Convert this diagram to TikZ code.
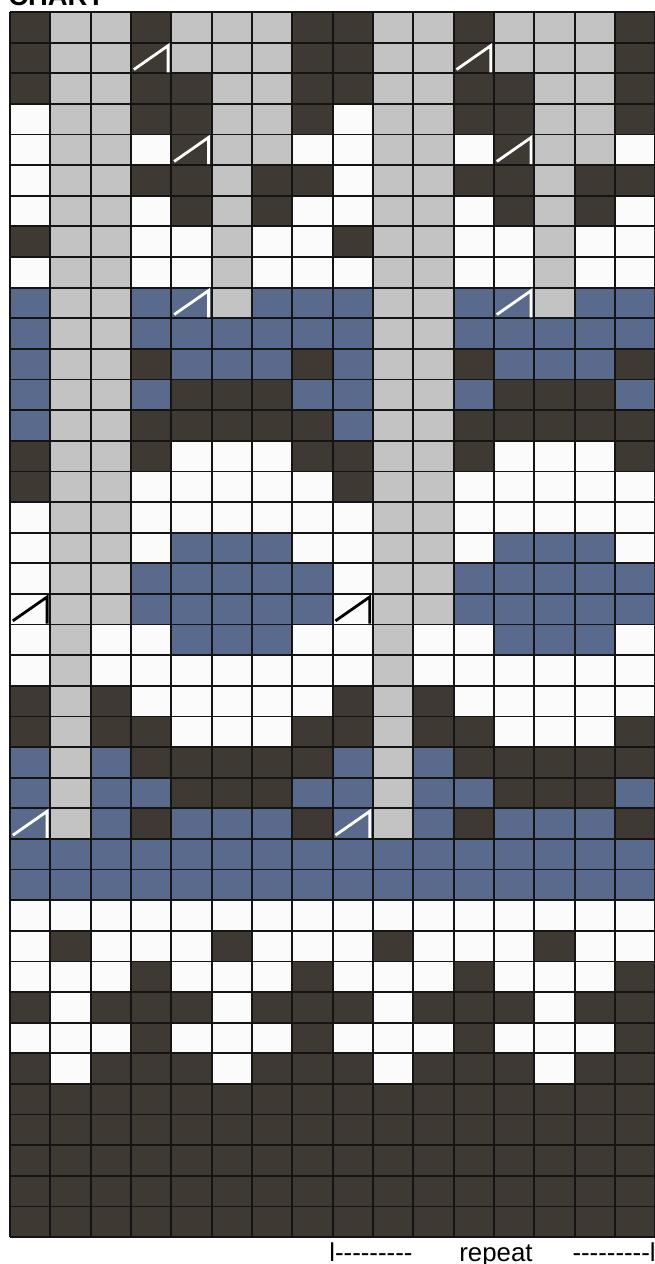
\documentclass[tikz,border=0pt]{standalone}
\usepackage{fontspec}
\newfontfamily\chartfont{Liberation Sans}[Ligatures=TeXOff]
\usepackage{xcolor}
\usepackage{tikz}
\usetikzlibrary{positioning}

\definecolor{dk}{RGB}{62,57,51}
\definecolor{gy}{RGB}{195,195,195}
\definecolor{wt}{RGB}{251,251,251}
\definecolor{bu}{RGB}{90,106,140}

\newcommand{\cellw}{40.33}
\newcommand{\cellh}{30.625}

\begin{document}
\begin{tikzpicture}[x=0.02cm, y=-0.02cm,
    gridline/.style={line width=1pt, draw=black!92},
    decline/.style={line width=1.6pt, line cap=butt, line join=miter},
    labeltext/.style={inner sep=0pt, anchor=base west,
                      font=\chartfont\fontsize{14.7}{17}\selectfont}]
  % Page
  \fill[white] (0,0) rectangle (654,1264);
  \useasboundingbox (0,0) rectangle (654,1264);

  % Title
  \node[labeltext, font=\chartfont\bfseries\fontsize{15.6}{18}\selectfont]
    (title) at (8,5.5) {CHART};

  % Stitches (8-stitch repeat, drawn twice)
  \foreach \pat [count=\r from 0] in {
    {dk,gy,gy,dk,gy,gy,gy,dk},
    {dk,gy,gy,dk,gy,gy,gy,dk},
    {dk,gy,gy,dk,dk,gy,gy,dk},
    {wt,gy,gy,dk,dk,gy,gy,dk},
    {wt,gy,gy,wt,dk,gy,gy,wt},
    {wt,gy,gy,dk,dk,gy,dk,dk},
    {wt,gy,gy,wt,dk,gy,dk,wt},
    {dk,gy,gy,wt,wt,gy,wt,wt},
    {wt,gy,gy,wt,wt,gy,wt,wt},
    {bu,gy,gy,bu,bu,gy,bu,bu},
    {bu,gy,gy,bu,bu,bu,bu,bu},
    {bu,gy,gy,dk,bu,bu,bu,dk},
    {bu,gy,gy,bu,dk,dk,dk,bu},
    {bu,gy,gy,dk,dk,dk,dk,dk},
    {dk,gy,gy,dk,wt,wt,wt,dk},
    {dk,gy,gy,wt,wt,wt,wt,wt},
    {wt,gy,gy,wt,wt,wt,wt,wt},
    {wt,gy,gy,wt,bu,bu,bu,wt},
    {wt,gy,gy,bu,bu,bu,bu,bu},
    {wt,gy,gy,bu,bu,bu,bu,bu},
    {wt,gy,wt,wt,bu,bu,bu,wt},
    {wt,gy,wt,wt,wt,wt,wt,wt},
    {dk,gy,dk,wt,wt,wt,wt,wt},
    {dk,gy,dk,dk,wt,wt,wt,dk},
    {bu,gy,bu,dk,dk,dk,dk,dk},
    {bu,gy,bu,bu,dk,dk,dk,bu},
    {bu,gy,bu,dk,bu,bu,bu,dk},
    {bu,bu,bu,bu,bu,bu,bu,bu},
    {bu,bu,bu,bu,bu,bu,bu,bu},
    {wt,wt,wt,wt,wt,wt,wt,wt},
    {wt,dk,wt,wt,wt,dk,wt,wt},
    {wt,wt,wt,dk,wt,wt,wt,dk},
    {dk,wt,dk,dk,dk,wt,dk,dk},
    {wt,wt,wt,dk,wt,wt,wt,dk},
    {dk,wt,dk,dk,dk,wt,dk,dk},
    {dk,dk,dk,dk,dk,dk,dk,dk},
    {dk,dk,dk,dk,dk,dk,dk,dk},
    {dk,dk,dk,dk,dk,dk,dk,dk},
    {dk,dk,dk,dk,dk,dk,dk,dk},
    {dk,dk,dk,dk,dk,dk,dk,dk}}{
    \foreach \k [count=\c from 0] in \pat {
      \foreach \s in {0,8}
        \fill[\k] ({10+(\c+\s)*\cellw},{12+\r*\cellh}) rectangle ++(\cellw,\cellh);
    }
  }

  % Grid
  \foreach \i in {0,...,16}
    \draw[gridline] ({10+\i*\cellw},12) -- ({10+\i*\cellw},{12+40*\cellh});
  \foreach \j in {0,...,40}
    \draw[gridline] (10,{12+\j*\cellh}) -- (660,{12+\j*\cellh});

  % Decrease marks
  \foreach \c/\r/\k in {3/1/white, 4/4/white, 4/9/white, 0/19/black, 0/26/white}
    \foreach \s in {0,8}
      \draw[decline, \k] ({10+(\c+\s+0.07)*\cellw},{12+(\r+0.88)*\cellh})
        -- ({10+(\c+\s+0.92)*\cellw},{12+(\r+0.1)*\cellh})
        -- ({10+(\c+\s+0.92)*\cellw},{12+(\r+0.97)*\cellh});

  % Repeat label
  \node[labeltext] (repL) at (329,1261) {l---------};
  \node[labeltext] (repM) at (459,1261) {repeat};
  \node[labeltext, anchor=base east] (repR) at (656,1261) {---------l};
\end{tikzpicture}
\end{document}
